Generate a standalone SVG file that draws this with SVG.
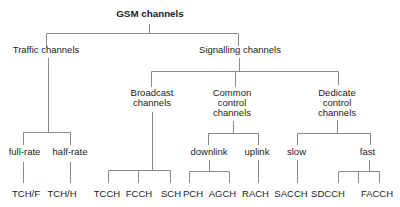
<svg xmlns="http://www.w3.org/2000/svg" width="400" height="207" viewBox="0 0 400 207">
<style>
text{font-family:"Liberation Sans",Arial,sans-serif;font-size:9.5px;fill:#222;text-anchor:middle}
.b{font-weight:bold;font-size:9.8px}
#edges path{fill:none;stroke:#8a8a8a;stroke-width:1}
</style>
<rect width="400" height="207" fill="#fff"/>
<g id="edges">
<path d="M149.5 24V33.5M46.5 33.5H238.5M46.5 33.5V48M238.5 33.5V46"/>
<path d="M48.5 58V132.5M23.5 132.5H70.5M23.5 132.5V145M70.5 132.5V145M23.5 162V183M70.5 162V183"/>
<path d="M239.5 58V71.5M151.5 71.5H338.5M151.5 71.5V87M235.5 71.5V87M338.5 71.5V85"/>
<path d="M152.5 112V170.5M108.5 170.5H170.5M108.5 170.5V183M138.5 170.5V183M170.5 170.5V183"/>
<path d="M233.5 121V133.5M208.5 133.5H258.5M208.5 133.5V145M258.5 133.5V145M209.5 160V171.5M189.5 171.5H229.5M189.5 171.5V183M229.5 171.5V183M258.5 160V183"/>
<path d="M337.5 120V133.5M297.5 133.5H370.5M297.5 133.5V145M370.5 133.5V145M297.5 160V183M369.5 160V171.5M338.5 171.5H379.5M338.5 171.5V183M358.5 171.5V183M379.5 171.5V183"/>
</g>
<g id="gsm"><text class="b" x="150" y="17">GSM channels</text></g>
<g id="traffic"><text x="46" y="53">Traffic channels</text></g>
<g id="signalling"><text x="240" y="53">Signalling channels</text></g>
<g id="fullrate"><text x="24.5" y="155">full-rate</text></g>
<g id="halfrate"><text x="70" y="155">half-rate</text></g>
<g id="broadcast"><text x="152" y="96">Broadcast</text><text x="152" y="106">channels</text></g>
<g id="common"><text x="232" y="96">Common</text><text x="232" y="106">control</text><text x="232" y="116">channels</text></g>
<g id="dedicate"><text x="337" y="96">Dedicate</text><text x="337" y="106">control</text><text x="337" y="116">channels</text></g>
<g id="downlink"><text x="209" y="155">downlink</text></g>
<g id="uplink"><text x="257" y="155">uplink</text></g>
<g id="slow"><text x="296.5" y="155">slow</text></g>
<g id="fast"><text x="367.5" y="155">fast</text></g>
<g id="tchf"><text x="26" y="197">TCH/F</text></g>
<g id="tchh"><text x="62" y="197">TCH/H</text></g>
<g id="tcch"><text x="107" y="197">TCCH</text></g>
<g id="fcch"><text x="139" y="197">FCCH</text></g>
<g id="sch"><text x="171" y="197">SCH</text></g>
<g id="pch"><text x="193" y="197">PCH</text></g>
<g id="agch"><text x="222.5" y="197">AGCH</text></g>
<g id="rach"><text x="255.5" y="197">RACH</text></g>
<g id="sacch"><text x="291" y="197">SACCH</text></g>
<g id="sdcch"><text x="328" y="197">SDCCH</text></g>
<g id="facch"><text x="377" y="197">FACCH</text></g>
</svg>
